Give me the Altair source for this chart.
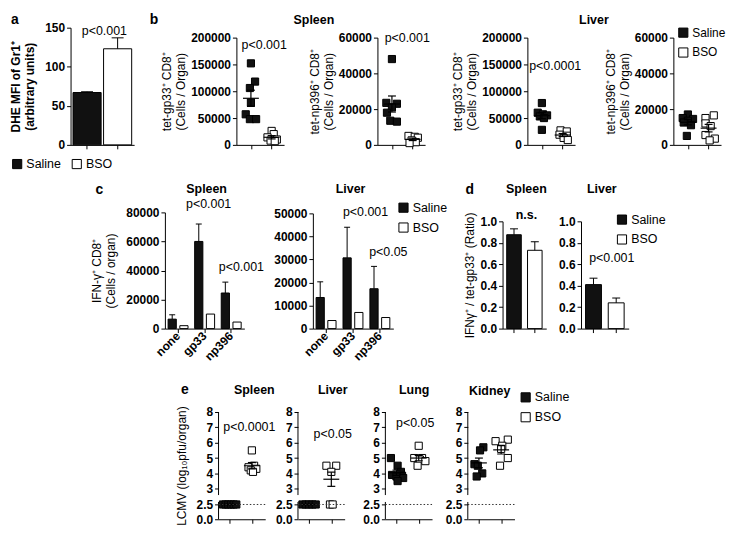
import altair as alt
import pandas as pd

FONT = "Liberation Sans"
GROUPS = ["Saline", "BSO"]
FILLS = ["#111111", "#ffffff"]

# ---------------- panel a : DHE MFI ----------------
a_groups = ["Saline", "BSO"]
a_means = [67, 123]
a_upper = [68, 137]

# ---------------- panel b : tetramer+ CD8 (cells / organ) ----------------
b_spleen_gp33_saline = [152000, 118000, 106000, 79000, 57000, 48000, 48000]
b_spleen_gp33_bso = [26000, 20000, 14000, 10000, 8000, 7000]
b_spleen_np396_saline = [48000, 23500, 23000, 21000, 18000, 13500, 13000]
b_spleen_np396_bso = [5000, 4500, 4000, 2500, 1500, 1000]
b_liver_gp33_saline = [78000, 60000, 57000, 55000, 53000, 50000, 28000]
b_liver_gp33_bso = [27000, 25000, 19000, 17000, 13000, 9000]
b_liver_np396_saline = [17000, 15000, 14500, 13500, 12500, 11000, 5000]
b_liver_np396_bso = [16500, 15000, 12000, 10500, 5500, 3500, 2500]

# horizontal scatter offsets of the dots
b1_jit_s = [0.0, 0.2, -0.05, 0.0, -0.25, -0.05, 0.25]
b1_jit_b = [0.0, 0.1, -0.2, 0.25, -0.05, 0.15]
b2_jit_s = [0.0, -0.27, 0.24, 0.0, -0.24, -0.08, 0.24]
b2_jit_b = [-0.2, 0.1, 0.25, -0.05, 0.15, -0.15]
b3_jit_s = [0.0, -0.2, 0.05, 0.25, -0.1, 0.1, 0.0]
b3_jit_b = [-0.1, 0.2, -0.15, 0.2, 0.05, 0.25]
b4_jit_s = [0.0, -0.25, 0.25, 0.0, -0.2, 0.15, -0.05]
b4_jit_b = [0.25, -0.15, -0.15, 0.1, -0.15, 0.3, 0.05]

# ---------------- panel c : IFN-g+ CD8 ----------------
c_epitopes = ["none", "gp33", "np396"]
c_spleen_saline = [6500, 60000, 24500]
c_spleen_saline_upper = [9500, 72000, 32000]
c_spleen_bso = [2000, 10000, 4500]
c_liver_saline = [13500, 30700, 17300]
c_liver_saline_upper = [20300, 44000, 27000]
c_liver_bso = [3500, 7000, 4800]

# ---------------- panel d : ratio ----------------
d_spleen = [0.875, 0.73]
d_spleen_upper = [0.93, 0.81]
d_liver = [0.41, 0.24]
d_liver_upper = [0.47, 0.285]

# ---------------- panel e : LCMV titres ----------------
e_spleen_saline = [2.5, 2.5, 2.5, 2.5, 2.5, 2.5]
e_spleen_bso = [5.5, 4.5, 4.4, 4.3, 4.2, 4.1]
e_liver_saline = [2.5, 2.5, 2.5, 2.5, 2.5]
e_liver_bso = [4.5, 4.5, 4.1, 2.5, 2.5]
e_lung_saline = [5.0, 4.5, 4.1, 3.9, 3.85, 3.8, 3.7, 3.5]
e_lung_bso = [5.8, 5.0, 5.0, 4.9, 4.8, 4.5]
e_kidney_saline = [5.7, 5.5, 4.6, 4.5, 4.0, 3.8]
e_kidney_bso = [6.2, 6.1, 5.8, 5.6, 5.0, 4.5]
e1_jit_s = [-0.3, -0.18, -0.06, 0.06, 0.18, 0.3]
e1_jit_b = [0.0, 0.1, -0.15, 0.2, -0.05, 0.05]
e2_jit_s = [-0.3, -0.15, 0.0, 0.15, 0.3]
e2_jit_b = [-0.22, 0.22, 0.0, -0.06, 0.06]
e3_jit_s = [-0.25, 0.05, 0.2, -0.2, 0.25, 0.0, 0.3, 0.05]
e3_jit_b = [0.0, -0.2, 0.15, 0.05, 0.3, -0.05]
e4_jit_s = [0.2, 0.05, -0.2, -0.05, 0.15, -0.1]
e4_jit_b = [0.3, -0.25, 0.05, 0.0, 0.3, -0.05]
e_tick_values = [0, 2.5, 3, 4, 5, 6, 7, 8]
e_lod = 2.5

# layout grid: widths of the grid columns (each panel's y axis sits on a column edge)
COL_W = [60, 95, 54, 18, 62, 15, 65, 8, 83, 35, 25, 54, 93, 50]


# ======================= helpers =======================
def fill_enc(legend=None):
    return alt.Fill("group:N", scale=alt.Scale(domain=GROUPS, range=FILLS), legend=legend)


def make_legend(x, y, direction="vertical", size=12.5):
    return alt.Legend(orient="none", legendX=x, legendY=y, direction=direction, title=None,
                      symbolType="square", symbolSize=85, symbolStrokeColor="black",
                      symbolStrokeWidth=1, labelFont=FONT, labelFontSize=size,
                      labelColor="black", rowPadding=6, columnPadding=8, labelOffset=3)


def label(text, x, y, size=12.5, bold=False, align="center"):
    return alt.Chart(pd.DataFrame({"k": [0]})).mark_text(
        text=text, font=FONT, fontSize=size, fontWeight="bold" if bold else "normal",
        align=align, baseline="middle", color="black").encode(x=alt.value(x), y=alt.value(y))


def yaxis(values, title=None, pad=2, fmt=None, expr=None, bold_title=False, domain=True):
    kw = dict(values=values, tickCount=len(values) + 2, title=title, titlePadding=pad,
              domain=domain, titleFontWeight="bold" if bold_title else "normal",
              labelOverlap=False, labelFlush=False)
    if fmt:
        kw["format"] = fmt
    if expr:
        kw["labelExpr"] = expr
    return alt.Axis(**kw)


def spacer(w, h):
    return alt.Chart(pd.DataFrame({"k": [0]})).mark_point(opacity=0).encode(
        x=alt.value(0), y=alt.value(0)).properties(width=w, height=h)


def identity(f):
    return "datum." + f


# broken axis of panel e: the stretch 0 - 2.5 (below detection) is drawn compressed
def broken(f):
    v = "datum." + f
    return f"({v} >= 3 ? {v} : ({v} >= 2.5 ? 3 - (3 - {v}) * 2.05 : 1.975 - (2.5 - {v}) * 0.385))"


def broken_value(v):
    return v if v >= 3 else (3 - (3 - v) * 2.05 if v >= 2.5 else 1.975 - (2.5 - v) * 0.385)


def bar_panel(means, uppers, ydom, yrng, xrng, yax, height, legend=None,
              pi=0.3, po=0.2, cap=8, extra=()):
    df = pd.DataFrame({"group": GROUPS, "mean": means, "upper": uppers})
    xs = alt.Scale(domain=GROUPS, range=xrng, paddingInner=pi, paddingOuter=po)
    ys = alt.Scale(domain=ydom, range=yrng, nice=False, zero=False)
    xax = alt.Axis(labels=False, title=None)
    base = alt.Chart(df)
    bars = base.mark_bar(stroke="black", strokeWidth=1).encode(
        x=alt.X("group:N", scale=xs, sort=GROUPS, axis=xax),
        y=alt.Y("mean:Q", scale=ys, axis=yax), fill=fill_enc(legend))
    err = base.transform_filter("datum.upper > datum.mean")
    rule = err.mark_rule(color="black", strokeWidth=1).encode(
        x=alt.X("group:N", scale=xs, sort=GROUPS),
        y=alt.Y("mean:Q", scale=ys), y2="upper:Q")
    capm = err.mark_tick(orient="horizontal", color="black", size=cap, thickness=1, opacity=1).encode(
        x=alt.X("group:N", scale=xs, sort=GROUPS),
        y=alt.Y("upper:Q", scale=ys))
    return alt.layer(bars, rule, capm, *extra).properties(height=height)


def grouped_panel(saline, saline_up, bso, ydom, yrng, xrng, yax, height, legend=None, extra=()):
    rows = []
    for i, ep in enumerate(c_epitopes):
        rows.append({"epitope": ep, "group": "Saline", "mean": saline[i], "upper": saline_up[i]})
        rows.append({"epitope": ep, "group": "BSO", "mean": bso[i], "upper": bso[i]})
    df = pd.DataFrame(rows)
    xs = alt.Scale(domain=c_epitopes, range=xrng, paddingInner=0.25, paddingOuter=0.12)
    xo = alt.Scale(domain=GROUPS, paddingInner=0.3, paddingOuter=0.0)
    ys = alt.Scale(domain=ydom, range=yrng, nice=False, zero=False)
    xax = alt.Axis(title=None, labelAngle=315, labelAlign="right", labelBaseline="middle",
                   labelPadding=1, labelFontSize=12, labelOverlap=False)
    base = alt.Chart(df)
    bars = base.mark_bar(stroke="black", strokeWidth=1).encode(
        x=alt.X("epitope:N", scale=xs, sort=c_epitopes, axis=xax),
        xOffset=alt.XOffset("group:N", scale=xo, sort=GROUPS),
        y=alt.Y("mean:Q", scale=ys, axis=yax), fill=fill_enc(legend))
    err = base.transform_filter("datum.upper > datum.mean")
    rule = err.mark_rule(color="black", strokeWidth=1).encode(
        x=alt.X("epitope:N", scale=xs, sort=c_epitopes),
        xOffset=alt.XOffset("group:N", scale=xo, sort=GROUPS),
        y=alt.Y("mean:Q", scale=ys), y2="upper:Q")
    capm = err.mark_tick(orient="horizontal", color="black", size=6, thickness=1, opacity=1).encode(
        x=alt.X("epitope:N", scale=xs, sort=c_epitopes),
        xOffset=alt.XOffset("group:N", scale=xo, sort=GROUPS),
        y=alt.Y("upper:Q", scale=ys))
    return alt.layer(bars, rule, capm, *extra).properties(height=height)


def scatter_panel(sal, bso, jit_s, jit_b, ydom, yrng, yax, xdom, xrng, height,
                  legend=None, tf=identity, pre=(), extra=()):
    rows = []
    for v, j in zip(sal, jit_s):
        rows.append({"group": "Saline", "xpos": 1, "xj": 1 + j, "value": v})
    for v, j in zip(bso, jit_b):
        rows.append({"group": "BSO", "xpos": 2, "xj": 2 + j, "value": v})
    df = pd.DataFrame(rows)
    xs = alt.Scale(domain=xdom, range=xrng, nice=False, zero=False)
    ys = alt.Scale(domain=ydom, range=yrng, nice=False, zero=False)
    xax = alt.Axis(values=[1, 2], tickCount=4, labels=False, title=None)
    base = alt.Chart(df)
    pts = base.transform_calculate(yv=tf("value")).mark_square(
        size=52, stroke="black", strokeWidth=1, opacity=1).encode(
        x=alt.X("xj:Q", scale=xs, axis=xax),
        y=alt.Y("yv:Q", scale=ys, axis=yax), fill=fill_enc(legend))
    stats = base.transform_aggregate(
        m="mean(value)", se="stderr(value)", groupby=["group", "xpos"]
    ).transform_calculate(lo="datum.m - datum.se", hi="datum.m + datum.se"
    ).transform_calculate(ym=tf("m"), ylo=tf("lo"), yhi=tf("hi"))
    xx = alt.X("xpos:Q", scale=xs)
    meanl = stats.mark_tick(orient="horizontal", size=16, thickness=1.2, color="black", opacity=1).encode(
        x=xx, y=alt.Y("ym:Q", scale=ys))
    err = stats.mark_rule(color="black", strokeWidth=1.2).encode(
        x=xx, y=alt.Y("ylo:Q", scale=ys), y2="yhi:Q")
    cap_hi = stats.mark_tick(orient="horizontal", size=8, thickness=1.2, color="black", opacity=1).encode(
        x=xx, y=alt.Y("yhi:Q", scale=ys))
    cap_lo = stats.mark_tick(orient="horizontal", size=8, thickness=1.2, color="black", opacity=1).encode(
        x=xx, y=alt.Y("ylo:Q", scale=ys))
    layers = [pts, err, meanl, cap_hi, cap_lo] + [p(xs, ys) for p in pre] + list(extra)
    return alt.layer(*layers).properties(height=height)


# ======================= row 1 : a + b =======================
H1 = 133
pa = bar_panel(a_means, a_upper, [0, 150], [H1, 15], [0, 64],
               yaxis([0, 50, 100, 150], ["DHE MFI of Gr1⁺", "(arbitrary units)"], pad=8,
                     fmt="d", bold_title=True),
               H1, legend=make_legend(-60, 146, "horizontal"), pi=0.08, po=0.08, cap=12,
               extra=[label("a", -60, 7, 14, True, "left"), label("p<0.001", 34, 18)])

BX_DOM = [0.3, 2.6]
BX_RNG = [0, 48]
gp33_vals = [0, 50000, 100000, 150000, 200000]
np396_vals = [0, 20000, 40000, 60000]
b1 = scatter_panel(b_spleen_gp33_saline, b_spleen_gp33_bso, b1_jit_s, b1_jit_b,
                   [0, 200000], [H1, 25],
                   yaxis(gp33_vals, ["tet-gp33⁺ CD8⁺", "(Cells / Organ)"], pad=3, fmt="d"),
                   BX_DOM, BX_RNG, H1,
                   extra=[label("b", -83, 7, 14, True), label("Spleen", 78, 7, 12.5, True),
                          label("p<0.001", 28, 32)])
b2 = scatter_panel(b_spleen_np396_saline, b_spleen_np396_bso, b2_jit_s, b2_jit_b,
                   [0, 60000], [H1, 25],
                   yaxis(np396_vals, ["tet-np396⁺ CD8⁺", "(Cells / Organ)"], pad=3, fmt="d"),
                   BX_DOM, BX_RNG, H1, extra=[label("p<0.001", 30, 25)])
b3 = scatter_panel(b_liver_gp33_saline, b_liver_gp33_bso, b3_jit_s, b3_jit_b,
                   [0, 200000], [H1, 25],
                   yaxis(gp33_vals, ["tet-gp33⁺ CD8⁺", "(Cells / Organ)"], pad=3, fmt="d"),
                   BX_DOM, BX_RNG, H1,
                   extra=[label("Liver", 67, 7, 12.5, True), label("p<0.0001", 28, 54)])
b4 = scatter_panel(b_liver_np396_saline, b_liver_np396_bso, b4_jit_s, b4_jit_b,
                   [0, 60000], [H1, 25],
                   yaxis(np396_vals, ["tet-np396⁺ CD8⁺", "(Cells / Organ)"], pad=3, fmt="d"),
                   BX_DOM, BX_RNG, H1, legend=make_legend(4, 14, size=12))

# ======================= row 2 : c + d =======================
H2 = 185
c1 = grouped_panel(c_spleen_saline, c_spleen_saline_upper, c_spleen_bso, [0, 80000], [H2, 68], [0, 80],
                   yaxis([0, 20000, 40000, 60000, 80000], ["IFN-γ⁺ CD8⁺", "(Cells / organ)"], pad=8, fmt="d"),
                   H2,
                   extra=[label("c", -66, 45, 14, True), label("Spleen", 42, 44, 12.5, True),
                          label("p<0.001", 44, 60), label("p<0.001", 77, 123)])
c2 = grouped_panel(c_liver_saline, c_liver_saline_upper, c_liver_bso, [0, 50000], [H2, 69], [0, 81],
                   yaxis([0, 10000, 20000, 30000, 40000, 50000], None, fmt="d"),
                   H2, legend=make_legend(85, 57),
                   extra=[label("Liver", 38, 44, 12.5, True), label("p<0.001", 53, 68),
                          label("p<0.05", 76, 108)])
d_vals = [0, 0.2, 0.4, 0.6, 0.8, 1.0]
d1 = bar_panel(d_spleen, d_spleen_upper, [0, 1], [H2, 77], [0, 44],
               yaxis(d_vals, "IFNγ⁺ / tet-gp33⁺ (Ratio)", pad=4, fmt=".1f"), H2,
               pi=0.3, po=0.2, cap=8,
               extra=[label("d", -33, 45, 14, True), label("Spleen", 24, 44, 12.5, True),
                      label("n.s.", 24, 71, 12.5, True)])
d2 = bar_panel(d_liver, d_liver_upper, [0, 1], [H2, 77], [0, 48],
               yaxis(d_vals, None, fmt=".1f"), H2, legend=make_legend(35, 69),
               pi=0.3, po=0.2, cap=8,
               extra=[label("Liver", 21, 44, 12.5, True), label("p<0.001", 31, 114)])

# ======================= row 3 : e =======================
H3 = 192
E_DOM = [broken_value(0), 8]
E_RNG = [H3, 84]
E_VALUES = [broken_value(v) for v in e_tick_values]
E_XDOM = [0.5, 2.6]
E_XRNG = [0, 47]
E_EXPR = "datum.value < 1.5 ? '0.0' : (datum.value < 2.5 ? '2.5' : format(datum.value, 'd'))"


def e_axis_segments(xs, ys):
    seg = pd.DataFrame({"s1": [2.8, 0.0], "s2": [8.0, 2.58]})
    return alt.Chart(seg).transform_calculate(y1=broken("s1"), y2=broken("s2")).mark_rule(
        color="black", strokeWidth=1).encode(
        x=alt.value(0), y=alt.Y("y1:Q", scale=ys), y2="y2:Q")


def e_lod_line(xs, ys):
    lod = pd.DataFrame({"v": [e_lod], "x1": [E_XDOM[0]], "x2": [E_XDOM[1]]})
    return alt.Chart(lod).transform_calculate(yl=broken("v")).mark_rule(
        color="#333333", strokeWidth=1, strokeDash=[1.5, 2]).encode(
        x=alt.X("x1:Q", scale=xs), x2="x2:Q", y=alt.Y("yl:Q", scale=ys))


def e_panel(sal, bso, js, jb, title, legend=None, extra=()):
    return scatter_panel(sal, bso, js, jb, E_DOM, E_RNG,
                         yaxis(E_VALUES, title, pad=8, expr=E_EXPR, domain=False),
                         E_XDOM, E_XRNG, H3, legend=legend, tf=broken,
                         pre=(e_axis_segments, e_lod_line), extra=extra)


e1 = e_panel(e_spleen_saline, e_spleen_bso, e1_jit_s, e1_jit_b, "LCMV  (log₁₀pfu/organ)",
             extra=[label("e", -34, 62, 14, True), label("Spleen", 36, 62, 12.5, True),
                    label("p<0.0001", 31, 99)])
e2 = e_panel(e_liver_saline, e_liver_bso, e2_jit_s, e2_jit_b, None,
             extra=[label("Liver", 35, 62, 12.5, True), label("p<0.05", 35, 106)])
e3 = e_panel(e_lung_saline, e_lung_bso, e3_jit_s, e3_jit_b, None,
             extra=[label("Lung", 29, 62, 12.5, True), label("p<0.05", 30, 95)])
e4 = e_panel(e_kidney_saline, e_kidney_bso, e4_jit_s, e4_jit_b, None,
             legend=make_legend(52, 63), extra=[label("Kidney", 22, 63, 12.5, True)])


def grid_row(panels, height):
    cells = []
    for i, w in enumerate(COL_W):
        if i in panels:
            cells.append(panels[i].properties(width=w, height=height))
        else:
            cells.append(spacer(w, height))
    return cells


cells = (grid_row({1: pa, 4: b1, 7: b2, 11: b3, 13: b4}, H1)
         + grid_row({2: c1, 6: c2, 10: d1, 12: d2}, H2)
         + grid_row({3: e1, 5: e2, 8: e3, 9: e4}, H3)
         + grid_row({}, 10))

chart = alt.concat(*cells, columns=len(COL_W), spacing=0, bounds="flush").resolve_legend(
    fill="independent"
).properties(padding=0).configure_view(stroke=None).configure_axis(
    labelFont=FONT, labelFontSize=12, labelFontWeight="bold", labelColor="black",
    titleFont=FONT, titleFontSize=12, titleColor="black",
    domainColor="black", tickColor="black", tickSize=4, domainWidth=1, tickWidth=1,
    grid=False, labelPadding=2, labelFlush=False, labelOverlap=False, labelBound=False
)

chart.save("out.html", embed_options={"renderer": "svg", "actions": False})
